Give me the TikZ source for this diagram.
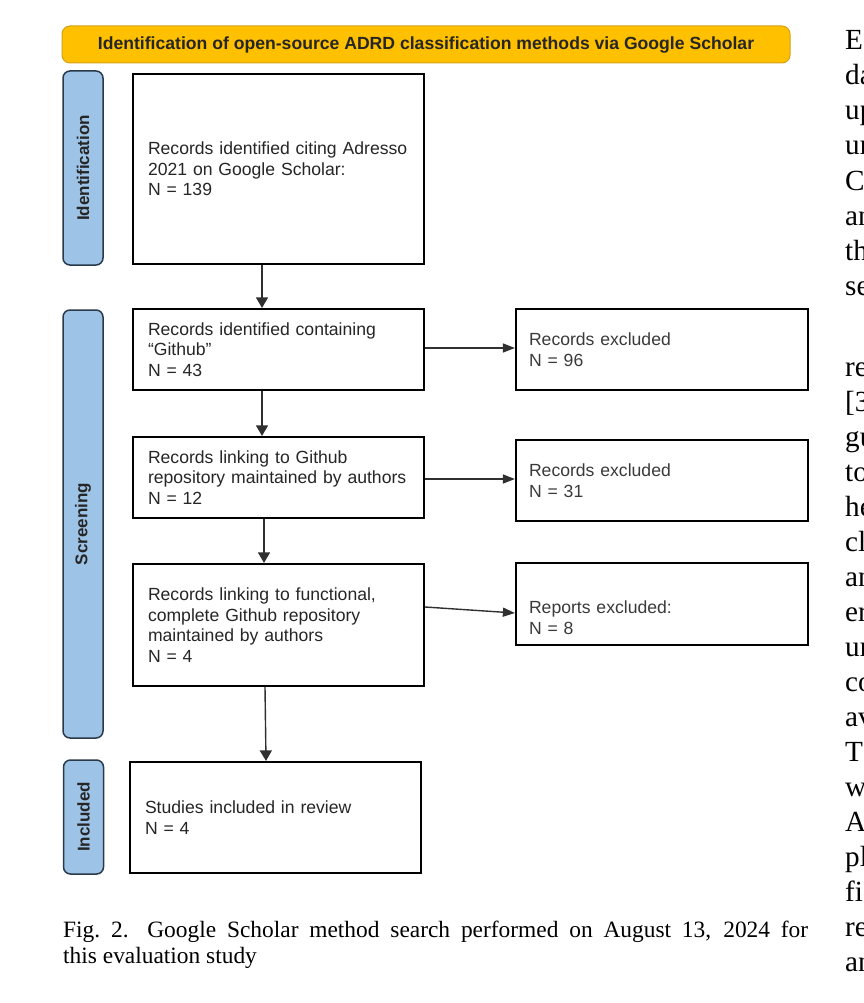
\documentclass[tikz,border=0pt]{standalone}
\usepackage{fontspec}
\setmainfont{Liberation Serif}
\newfontfamily\arialf{Liberation Sans}
\usetikzlibrary{arrows.meta}
\definecolor{bannerfill}{HTML}{FFC000}
\definecolor{bannerdraw}{HTML}{D4A017}
\definecolor{barfill}{HTML}{9DC3E6}
\definecolor{bardraw}{HTML}{2B3A4A}
\definecolor{boxtext}{HTML}{262626}
\definecolor{excltext}{HTML}{3A3A3A}
\definecolor{connc}{HTML}{303030}
\newcommand\bxfont{\arialf\fontsize{17.6}{20.6}\selectfont}
\newcommand\lblfont{\arialf\bfseries\fontsize{17}{20}\selectfont}
\newcommand\capfont{\rmfamily\fontsize{23.4}{26.3}\selectfont}
\newcommand\colfont{\rmfamily\fontsize{29.2}{35}\selectfont}
\begin{document}
\begin{tikzpicture}[x=1pt,y=-1pt,
  mainbox/.style={draw=black, line width=2.2pt, text width=261pt, inner xsep=15pt, inner ysep=2pt, align=left, font=\bxfont, text=boxtext},
  exclbox/.style={draw=black, line width=2.2pt, text width=266pt, inner xsep=13pt, inner ysep=2pt, align=left, font=\bxfont, text=excltext},
  phase/.style={draw=bardraw, fill=barfill, line width=1.5pt, rounded corners=7pt, rotate=90, minimum height=40pt, inner sep=0pt, font=\lblfont, text=boxtext},
  vconn/.style={draw=connc, line width=1.4pt, -{Triangle[length=10.5pt,width=12pt]}},
  hconn/.style={draw=connc, line width=1.4pt, -{Triangle[length=12pt,width=9pt]}},
  coltext/.style={anchor=base west, inner sep=0pt, font=\colfont, text=black},
  captext/.style={anchor=base west, inner sep=0pt, font=\capfont, text=black}
]
\fill[white] (0,0) rectangle (863,1003);
\useasboundingbox (0,0) rectangle (863,1003);
\begin{scope}
\clip (0,0) rectangle (863,1003);

\node[draw=bannerdraw, fill=bannerfill, line width=1pt, rounded corners=8pt, minimum width=728pt, minimum height=37pt, inner sep=0pt, font=\arialf\bfseries\fontsize{17.6}{20}\selectfont, text=boxtext] (banner) at (426,44.5) {Identification of open-source ADRD classification methods via Google Scholar};

\node[phase, minimum width=194pt] (idph) at (83,168) {Identification};
\node[phase, minimum width=428pt] (scph) at (83,524) {Screening};
\node[phase, minimum width=114pt] (inph) at (83.5,817) {Included};

\node[mainbox, minimum height=190pt] (b1) at (278.5,169) {Records identified citing Adresso\\2021 on Google Scholar:\\N = 139};
\node[mainbox, minimum height=81pt] (b2) at (278.5,349.5) {Records identified containing\\“Github”\\N = 43};
\node[mainbox, minimum height=81pt] (b3) at (278.5,477.5) {Records linking to Github\\repository maintained by authors\\N = 12};
\node[mainbox, minimum height=122pt] (b4) at (278.5,625) {Records linking to functional,\\complete Github repository\\maintained by authors\\N = 4};
\node[mainbox, minimum height=111pt] (b5) at (275.5,817.5) {Studies included in review\\N = 4};
\node[exclbox, minimum height=81pt] (e1) at (662,349.5) {Records excluded\\N = 96};
\node[exclbox, minimum height=81pt] (e2) at (662,480.5) {Records excluded\\N = 31};
\node[exclbox, minimum height=82pt] (e3) at (662,604) {\mbox{}\\[20pt]Reports excluded:\\N = 8};

\draw[vconn] ([xshift=-16.5pt]b1.south) -- ([xshift=-16.5pt]b2.north);
\draw[vconn] ([xshift=-16.5pt]b2.south) -- ([xshift=-16.5pt]b3.north);
\draw[vconn] ([xshift=-14.5pt]b3.south) -- ([xshift=-14.5pt]b4.north);
\draw[vconn] ([xshift=-13.5pt]b4.south) -- ([xshift=-9.5pt]b5.north);
\draw[hconn] ([yshift=1.5pt]b2.east) -- ([yshift=1.5pt]e1.west);
\draw[hconn] ([yshift=-1.5pt]b3.east) -- ([yshift=1.5pt]e2.west);
\draw[hconn] ([yshift=18pt]b4.east) -- ([yshift=-9pt]e3.west);

\node[captext] (cap1) at (63,937) {\makebox[745pt][s]{Fig.~2.\hspace{0.8em}Google Scholar method search performed on August 13, 2024 for}};
\node[captext] (cap2) at (63,963.3) {this evaluation study};

\foreach \ctext/\yy [count=\i] in {E/50, da/85, up/120, ur/155, C/190, an/225, th/260, se/295, re/376.5, {\lbrack 3}/411.5, gu/446.5, to/481.5, he/516.5, cl/551.5, an/586.5, er/621.5, ur/656.5, co/691.5, av/726.5, T/761.5, w/796.5, A/831.5, pl/866.5, fi/901.5, re/936.5, an/971.5}
  \node[coltext] (col\i) at (845,\yy) {\ctext};
\end{scope}
\end{tikzpicture}
\end{document}
